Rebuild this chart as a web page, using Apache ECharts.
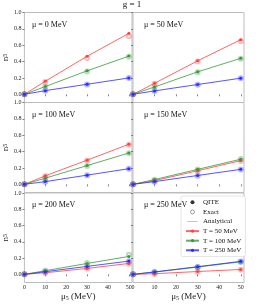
<!DOCTYPE html>
<html><head><meta charset="utf-8">
<script src="https://cdn.jsdelivr.net/npm/echarts@6/dist/echarts.min.js"></script>
<style>html,body{margin:0;padding:0;background:#fff}#c{width:258px;height:305px}</style>
</head><body><div id="c"></div>
<script>
// ---- data ----
const muLabels = ['μ = 0 MeV','μ = 50 MeV','μ = 100 MeV','μ = 150 MeV','μ = 200 MeV','μ = 250 MeV'];
const mu5 = [0, 10, 30, 50];
const xTicks = [0, 10, 20, 30, 40, 50];
const yTicks = [0, 0.2, 0.4, 0.6, 0.8, 1.0];
const tNames = ['T = 50 MeV', 'T = 100 MeV', 'T = 250 MeV'];
// QITE values per panel (rows: μ = 0,50,100,150,200,250)
const qiteT50 = [[0,0.16,0.465,0.745],[0,0.135,0.41,0.668],[0,0.104,0.295,0.49],[0,0.045,0.166,0.29],[0,0.02,0.073,0.134],[0,0.008,0.035,0.06]];
const qiteT100 = [[0,0.095,0.287,0.467],[0,0.09,0.275,0.44],[0,0.075,0.229,0.383],[0,0.058,0.183,0.307],[0,0.045,0.134,0.22],[0,0.028,0.09,0.155]];
const qiteT250 = [[0,0.045,0.123,0.2],[0,0.042,0.12,0.197],[0,0.033,0.112,0.191],[0,0.033,0.108,0.183],[0,0.033,0.098,0.163],[0,0.03,0.094,0.16]];
// Exact values per panel
const exactT50 = [[0,0.15,0.445,0.71],[0,0.13,0.4,0.65],[0,0.1,0.29,0.485],[0,0.043,0.162,0.285],[0,0.018,0.07,0.13],[0,0.006,0.033,0.058]];
const exactT100 = [[0,0.093,0.28,0.46],[0,0.088,0.27,0.435],[0,0.073,0.225,0.38],[0,0.057,0.18,0.31],[0,0.048,0.14,0.24],[0,0.027,0.088,0.153]];
const exactT250 = [[0,0.044,0.12,0.198],[0,0.041,0.118,0.195],[0,0.032,0.11,0.19],[0,0.032,0.106,0.18],[0,0.032,0.096,0.162],[0,0.03,0.092,0.158]];

const colors = ['#ff4040', '#3a9a3a', '#2b2bff'];
const qite = [qiteT50, qiteT100, qiteT250];
const exact = [exactT50, exactT100, exactT250];
const FONT = '"Liberation Serif", "DejaVu Serif", serif';

const lefts = [21, 133], W = 111;
const tops = [12.5, 102.5, 193], H = 90;

const grid = [], xAxis = [], yAxis = [], series = [], title = [];
title.push({text: 'g = 1', left: 132, top: 0, padding: 0, textAlign: 'center', textStyle: {fontFamily: FONT, fontSize: 9, fontWeight: 'normal', color: '#111'}});

for (let i = 0; i < 6; i++) {
  const r = Math.floor(i / 2), c = i % 2;
  grid.push({left: lefts[c], top: tops[r], width: W, height: (r === 2 ? 89.5 : H), show: true, borderColor: '#bdbdbd', borderWidth: 1, backgroundColor: 'transparent'});
  xAxis.push({
    type: 'value', gridIndex: i, min: 0, max: 51.5,
    axisLine: {show: false}, splitLine: {show: false},
    axisTick: {show: true, length: 2, customValues: xTicks, lineStyle: {color: '#666', width: 0.8}},
    axisLabel: {show: r === 2, customValues: xTicks, margin: 2, fontSize: 6, fontFamily: FONT, color: '#222'},
    name: r === 2 ? '{m|μ}{s|5}{m| (MeV)}' : '', nameLocation: 'middle', nameGap: 9,
    nameTextStyle: {fontFamily: FONT, color: '#222', rich: {m: {fontSize: 9, fontFamily: FONT, color: '#222'}, s: {fontSize: 6, fontFamily: FONT, color: '#222', verticalAlign: 'bottom', padding: [4, 0, 0, 0]}}}
  });
  yAxis.push({
    type: 'value', gridIndex: i, min: -0.1, max: 1.0,
    axisLine: {show: false}, splitLine: {show: false},
    axisTick: {show: true, length: 2, customValues: yTicks, lineStyle: {color: '#666', width: 0.8}},
    axisLabel: {show: c === 0, customValues: yTicks, margin: 3, fontSize: 6, fontFamily: FONT, color: '#222', formatter: v => v.toFixed(1)},
    name: c === 0 ? '{m|n}{s|5}' : '', nameLocation: 'middle', nameGap: 13,
    nameTextStyle: {fontFamily: FONT, color: '#222', rich: {m: {fontSize: 9, fontFamily: FONT, color: '#222'}, s: {fontSize: 6, fontFamily: FONT, color: '#222'}}}
  });
  title.push({text: muLabels[i], left: lefts[c] + 6, top: tops[r] + 3, textStyle: {fontFamily: FONT, fontSize: 8, fontWeight: 'normal', color: '#111'}});
  for (let k = 0; k < 3; k++) {
    series.push({
      type: 'scatter', name: tNames[k] + ' exact', xAxisIndex: i, yAxisIndex: i,
      data: mu5.map((x, j) => [x, exact[k][i][j]]),
      symbol: 'emptyCircle', symbolSize: 4,
      itemStyle: {color: colors[k], opacity: 0.35, borderWidth: 0.7}, z: 2, silent: true
    });
    series.push({
      type: 'line', name: tNames[k], xAxisIndex: i, yAxisIndex: i,
      data: mu5.map((x, j) => [x, qite[k][i][j]]),
      symbol: 'circle', symbolSize: 3, showSymbol: true,
      lineStyle: {color: colors[k], width: 1, opacity: 0.8},
      itemStyle: {color: colors[k]}, z: 3 + k, animation: false
    });
  }
}
// legend-only series
series.push({type: 'scatter', name: 'QITE', xAxisIndex: 5, yAxisIndex: 5, data: [], symbol: 'circle', itemStyle: {color: '#000'}});
series.push({type: 'scatter', name: 'Exact', xAxisIndex: 5, yAxisIndex: 5, data: [], symbol: 'circle', itemStyle: {color: '#fff', borderColor: '#666', borderWidth: 0.8}});
series.push({type: 'line', name: 'Analytical', xAxisIndex: 5, yAxisIndex: 5, data: [], symbol: 'none', showSymbol: false, lineStyle: {color: '#888', width: 1}, itemStyle: {color: '#888'}});

const chart = echarts.init(document.getElementById('c'), null, {renderer: 'canvas'});
chart.setOption({
  animation: false,
  backgroundColor: '#fff',
  title, grid, xAxis, yAxis, series,
  legend: {
    orient: 'vertical', left: 181, top: 196,
    data: [
      {name: 'QITE', icon: 'circle', itemStyle: {color: '#000'}},
      {name: 'Exact', icon: 'circle', itemStyle: {color: '#fff', borderColor: '#666', borderWidth: 0.8}},
      {name: 'Analytical', icon: 'path://M0,0M0,4.4L26,4.4L26,5.6L0,5.6ZM26,10', itemStyle: {color: '#888'}},
      'T = 50 MeV', 'T = 100 MeV', 'T = 250 MeV'
    ],
    itemWidth: 13, itemHeight: 4, itemGap: 1,
    padding: [2, 4, 2, 4], backgroundColor: '#fff', borderColor: '#ddd', borderWidth: 0.8, borderRadius: 2,
    textStyle: {fontFamily: FONT, fontSize: 7, color: '#111', lineHeight: 8.6, padding: [0, 0, 0, -1]},
    selectedMode: false
  }
});
</script></body></html>
